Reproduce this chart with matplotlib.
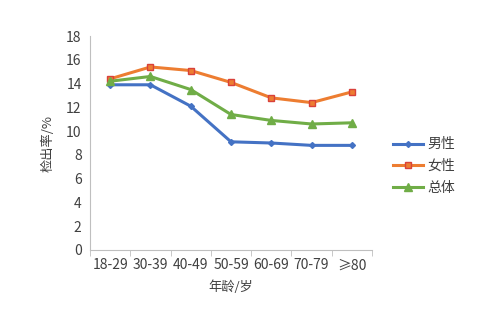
import matplotlib.pyplot as plt
import numpy as np

plt.rcParams['font.family'] = ['Noto Sans CJK SC', 'DejaVu Sans']

age_groups = ['18-29', '30-39', '40-49', '50-59', '60-69', '70-79', '≥80']
male = [13.9, 13.9, 12.1, 9.1, 9.0, 8.8, 8.8]
female = [14.4, 15.4, 15.1, 14.1, 12.8, 12.4, 13.3]
total = [14.2, 14.6, 13.5, 11.4, 10.9, 10.6, 10.7]

fig = plt.figure(figsize=(5, 3.25), dpi=100)
ax = fig.add_axes([0.18, 0.231, 0.564, 0.658])

x = np.arange(len(age_groups))
ax.plot(x, male, color='#4472C4', lw=2.2, marker='D', ms=3,
        mfc='#4472C4', mec='#4472C4', label='男性')
ax.plot(x, female, color='#ED7D31', lw=2.2, marker='s', ms=5,
        mfc='#ED7D31', mec='#D9413A', mew=1, label='女性')
ax.plot(x, total, color='#70AD47', lw=2.2, marker='^', ms=5.5,
        mfc='#70AD47', mec='#70AD47', label='总体')

ax.set_xlim(-0.5, len(age_groups) - 0.5)
ax.set_ylim(0, 18)
ax.set_yticks(range(0, 19, 2))

# category labels centred, tick marks between categories
ax.set_xticks(x)
ax.set_xticklabels(age_groups)
ax.set_xticks(np.arange(len(age_groups) + 1) - 0.5, minor=True)
ax.tick_params(axis='x', which='major', length=0, pad=6)
ax.tick_params(axis='x', which='minor', length=4, color='#BFBFBF')
ax.tick_params(axis='y', length=0, pad=6)
ax.tick_params(labelsize=10, labelcolor='#404040')

for side in ('top', 'right'):
    ax.spines[side].set_visible(False)
for side in ('left', 'bottom'):
    ax.spines[side].set_color('#BFBFBF')
    ax.spines[side].set_linewidth(0.8)

ax.set_xlabel('年龄/岁', fontsize=9.5, color='#404040', labelpad=6)
ax.set_ylabel('检出率/%', fontsize=9.5, color='#404040', labelpad=8)

ax.legend(loc='center left', bbox_to_anchor=(0.76, 0.489),
          bbox_transform=fig.transFigure, frameon=False,
          fontsize=10, handlelength=2.2, handletextpad=0.3,
          labelspacing=0.55, labelcolor='#404040')

fig.savefig('out.png', dpi=100)
